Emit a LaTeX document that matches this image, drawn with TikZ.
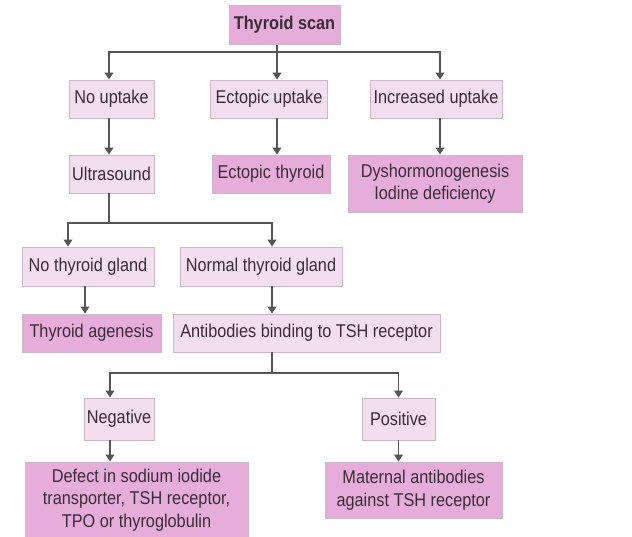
\documentclass[tikz,border=0pt]{standalone}
\usepackage{fontspec}
\setmainfont{Liberation Sans}[FakeStretch=0.88]
\usetikzlibrary{arrows.meta}
\definecolor{lightpk}{HTML}{F2DEEF}
\definecolor{darkpk}{HTML}{E6ADDB}
\definecolor{boxline}{HTML}{CBB8C6}
\definecolor{txt}{HTML}{3A2C36}
\definecolor{conn}{HTML}{555555}
\begin{document}
\begin{tikzpicture}[x=1pt,y=-1pt,
  box/.style={draw=boxline,line width=0.8pt,inner sep=0pt,align=center,text=txt,
    font=\fontsize{18.5}{22.5}\selectfont},
  qbox/.style={box,fill=lightpk},
  rbox/.style={box,fill=darkpk},
  conn/.style={draw=conn,line width=1.8pt},
  arr/.style={conn,-{Triangle[length=7pt,width=8.5pt]}}]
\useasboundingbox (0,0) rectangle (632,537);
\fill[white] (0,0) rectangle (632,537);
% nodes
\node[rbox,minimum width=111pt,minimum height=39pt,font=\bfseries\fontsize{18.5}{22.5}\selectfont] (scan) at (284.5,25) {Thyroid scan};
\node[qbox,minimum width=85pt,minimum height=38pt] (nou) at (111.5,99) {No uptake};
\node[qbox,minimum width=117pt,minimum height=38pt] (ecu) at (269,99) {Ectopic uptake};
\node[qbox,minimum width=132pt,minimum height=38pt] (inu) at (436,99) {Increased uptake};
\node[qbox,minimum width=85pt,minimum height=38pt] (us) at (111.5,174) {Ultrasound};
\node[rbox,minimum width=118pt,minimum height=38pt] (ect) at (271,174) {Ectopic thyroid};
\node[rbox,minimum width=174pt,minimum height=57pt] (dys) at (435,183.5) {Dyshormonogenesis\\Iodine deficiency};
\node[qbox,minimum width=132pt,minimum height=39pt] (nog) at (88,266.5) {No thyroid gland};
\node[qbox,minimum width=162pt,minimum height=39pt] (nrg) at (261,266.5) {Normal thyroid gland};
\node[rbox,minimum width=139pt,minimum height=38pt] (age) at (91.5,333) {Thyroid agenesis};
\node[qbox,minimum width=267pt,minimum height=38pt] (ab) at (306.5,333) {Antibodies binding to TSH receptor};
\node[qbox,minimum width=70pt,minimum height=42pt] (neg) at (119,419) {Negative};
\node[qbox,minimum width=73pt,minimum height=42pt] (pos) at (398.5,419) {Positive};
\node[rbox,minimum width=223pt,minimum height=76pt] (def) at (136.5,500) {Defect in sodium iodide\\transporter, TSH receptor,\\TPO or thyroglobulin};
\node[rbox,minimum width=177pt,minimum height=56pt] (mat) at (413.5,490) {Maternal antibodies\\against TSH receptor};
% connectors
\coordinate (j1) at (277,52);
\coordinate (xi) at (440,0);
\draw[conn] (scan.south -| j1) -- (j1);
\draw[arr] (j1) -| ([xshift=-2.5pt]nou.north);
\draw[arr] (j1) -- (j1 |- ecu.north);
\draw[arr] (j1) -| (inu.north -| xi);
\draw[arr] ([xshift=-2.5pt]nou.south) -- ([xshift=-2.5pt]us.north);
\draw[arr] (ecu.south -| j1) -- (ect.north -| j1);
\draw[arr] (inu.south -| xi) -- (dys.north -| xi);
\coordinate (j2) at (109,223);
\coordinate (xn) at (272,0);
\draw[conn] ([xshift=-2.5pt]us.south) -- (j2);
\draw[arr] (j2) -| ([xshift=-20pt]nog.north);
\draw[arr] (j2) -| (nrg.north -| xn);
\draw[arr] ([xshift=-3pt]nog.south) -- ([xshift=-3pt]nog.south |- age.north);
\draw[arr] (nrg.south -| xn) -- (ab.north -| xn);
\coordinate (j3) at (272,373);
\draw[conn] (ab.south -| j3) -- (j3);
\draw[arr] (j3) -| ([xshift=-9pt]neg.north);
\draw[arr] (j3) -| (pos.north);
\draw[arr] ([xshift=-9pt]neg.south) -- ([xshift=-9pt]neg.south |- def.north);
\draw[arr] (pos.south) -- (pos.south |- mat.north);
\end{tikzpicture}
\end{document}
